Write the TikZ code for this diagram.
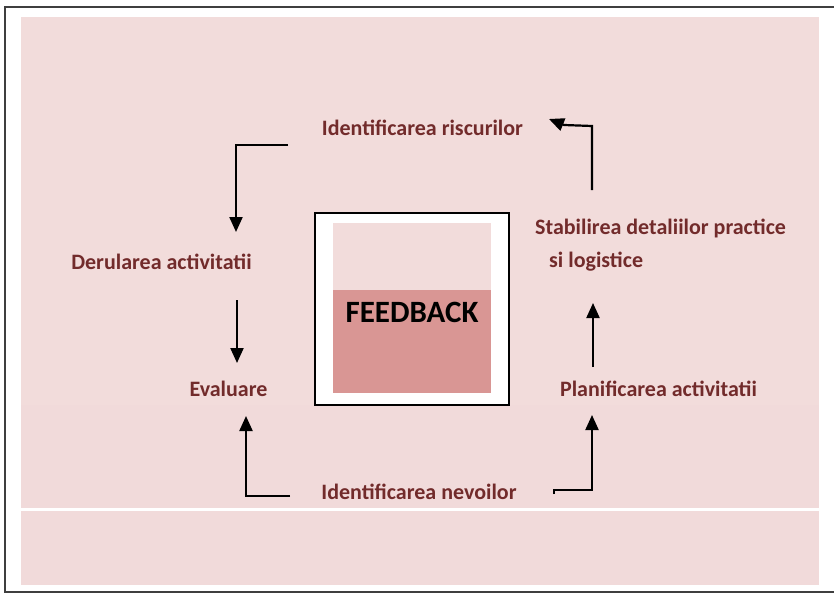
\documentclass[tikz,border=0pt]{standalone}
\usepackage{fontspec}
\setmainfont{Carlito}
\usetikzlibrary{arrows.meta}
\definecolor{bgpink}{HTML}{F2DCDB}
\definecolor{bandpink}{HTML}{F1DADA}
\definecolor{darkpink}{HTML}{D99694}
\definecolor{txtred}{HTML}{722B2B}
\definecolor{frame}{HTML}{3F3F3F}
\tikzset{
  lbl/.style={text=txtred, font=\fontsize{22}{24}\selectfont\bfseries, inner sep=0pt},
  arr/.style={line width=2.2pt, -{Triangle[width=13pt,length=15pt]}}
}
\begin{document}
\begin{tikzpicture}[x=1pt,y=-1pt]
\useasboundingbox (0,0) rectangle (834,594);
% backgrounds
\fill[bgpink] (21,17) rectangle (819,405);
\fill[bandpink] (21,405) rectangle (819,508);
\fill[bandpink] (21,511) rectangle (819,585);
% frame
\draw[frame, line width=1.8pt] (834,7) -- (5,7) -- (5,592) -- (834,592);
% feedback box
\draw[black, fill=white, line width=1.5pt] (315,213) rectangle (509,405);
\fill[bgpink] (333,223) rectangle (491,290);
\fill[darkpink] (333,290) rectangle (491,393);
\node[font=\fontsize{31}{34}\selectfont\bfseries, inner sep=0pt] (fb) at (412,312) {FEEDBACK};
% labels
\node[lbl] (risc) at (422.5,128) {Identificarea riscurilor};
\node[lbl, anchor=west] (stab) at (535,228) {Stabilirea detaliilor practice};
\node[lbl, anchor=west] (stabb) at (549,262) {si logistice};
\node[lbl] (plan) at (658.5,389) {Planificarea activitatii};
\node[lbl] (derul) at (161.5,262) {Derularea activitatii};
\node[lbl] (eval) at (228.5,389) {Evaluare};
\node[lbl] (nev) at (419,492) {Identificarea nevoilor};
% connector end points
\coordinate (r1) at (288,145);
\coordinate (d1) at (236,232);
\coordinate (d2) at (237,300);
\coordinate (e1) at (237,363);
\coordinate (n1) at (290,496);
\coordinate (e2) at (246,416);
\coordinate (n2) at (554,494);
\coordinate (n3) at (554,490);
\coordinate (p1) at (592,415);
\coordinate (p2) at (593,367);
\coordinate (s1) at (593,303);
\coordinate (s2) at (592,190);
\coordinate (s3) at (592,126);
\coordinate (s4) at (564,125);
\coordinate (r2) at (549,119);
% connectors
\draw[arr] (r1) -| (d1);
\draw[arr] (d2) -- (e1);
\draw[arr] (n1) -| (e2);
\draw[arr] (n2) -- (n3) -| (p1);
\draw[arr] (p2) -- (s1);
\draw[arr] (s2) -- (s3) -- (s4) -- (r2);
\end{tikzpicture}
\end{document}
